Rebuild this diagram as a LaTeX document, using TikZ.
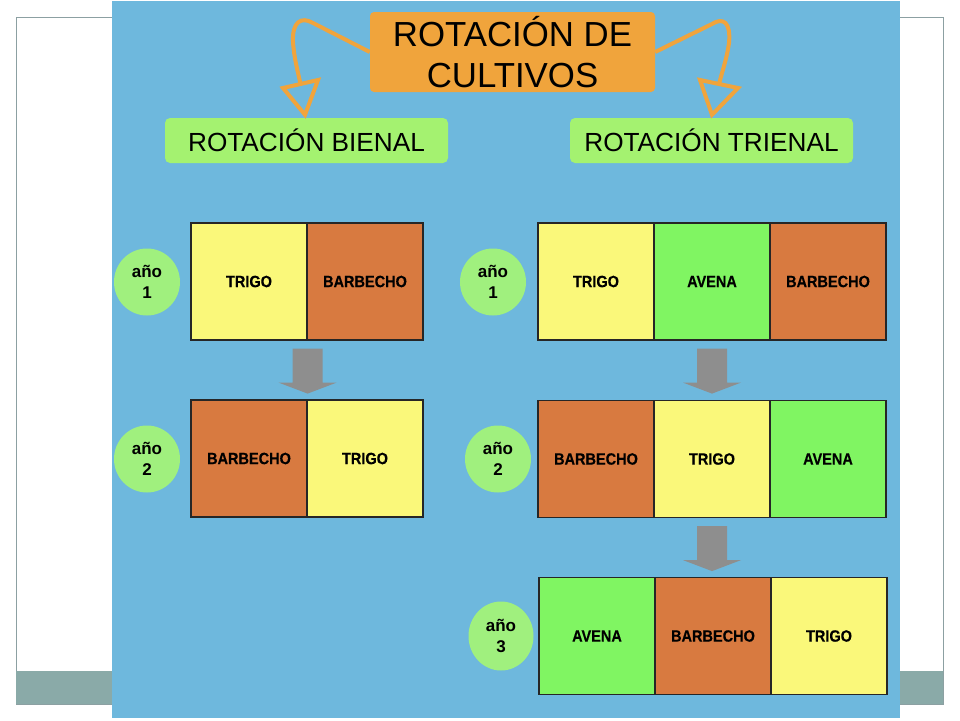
\documentclass[tikz,border=0pt]{standalone}
\usepackage{fontspec}
\setmainfont{Liberation Sans}
\newfontfamily\cellfont[FakeStretch=0.89,FakeBold=0.3]{Liberation Sans Bold}
\usetikzlibrary{arrows.meta,shapes.geometric,calc}
\definecolor{panelblue}{RGB}{110,184,221}
\definecolor{framegray}{RGB}{140,160,162}
\definecolor{bandgray}{RGB}{138,170,168}
\definecolor{titleorange}{RGB}{240,164,60}
\definecolor{labelgreen}{RGB}{164,242,112}
\definecolor{circgreen}{RGB}{160,240,126}
\definecolor{cyellow}{RGB}{250,248,122}
\definecolor{cbrown}{RGB}{216,122,64}
\definecolor{cgreen}{RGB}{128,245,98}
\definecolor{arrowgray}{RGB}{142,142,142}
\tikzset{
  titlebox/.style={fill=titleorange, rounded corners=4pt, minimum width=285pt, minimum height=80pt, inner sep=0pt, align=center, font=\fontsize{34.8}{41.5}\selectfont},
  labelbox/.style={fill=labelgreen, rounded corners=5pt, minimum width=283pt, minimum height=45pt, inner sep=0pt, font=\fontsize{26.2}{30}\selectfont},
  cell/.style={draw=black!85, line width=1.2pt, minimum width=116pt, minimum height=117pt, inner sep=0pt, font=\cellfont\fontsize{16.3}{19}\selectfont},
  yearc/.style={ellipse, fill=circgreen, minimum width=66pt, minimum height=67pt, inner sep=0pt, align=center, font=\bfseries\fontsize{17}{21.5}\selectfont},
  orangeline/.style={draw=titleorange, line width=4pt},
  orangehead/.style={draw=titleorange, line width=4pt, line join=miter},
  downarrow/.pic={\fill[arrowgray] (-15,8) -- (15,8) -- (15,42) -- (29,42) -- (0,53) -- (-29,42) -- (-15,42) -- cycle;}
}
\begin{document}
\begin{tikzpicture}[x=1pt,y=-1pt]
\useasboundingbox (0,0) rectangle (960,720);
\fill[white] (0,0) rectangle (960,720);
% slide frame
\draw[framegray, line width=1pt] (16,17) rectangle (943,704);
\fill[bandgray] (16,671) rectangle (943,704);
% panel
\fill[panelblue] (112,1) rectangle (900,718);
% title and labels
\node[titlebox] (title) at (512.5,52) {ROTACIÓN DE\\CULTIVOS};
\node[labelbox] (bienal) at (306.5,140.5) {ROTACIÓN BIENAL};
\node[labelbox] (trienal) at (711.5,140.5) {ROTACIÓN TRIENAL};
% curved arrows with open triangular heads
\coordinate (lbase) at (300.5,84);
\coordinate (rbase) at (719,84);
\draw[orangeline] (title.west) -- (313,23) .. controls (301,16) and (292,22) .. (293,42) .. controls (294,58) and (298,72) .. (lbase);
\draw[orangehead] (283,88) -- (318,80) -- ($(bienal.north)+(-1.5,-3)$) -- cycle;
\draw[orangeline] (title.east) -- (712,24) .. controls (723,17) and (731,22) .. (729,43) .. controls (727,58) and (722,72) .. (rbase);
\draw[orangehead] (700,80) -- (738,88) -- ($(trienal.north)+(0.5,-3)$) -- cycle;
% bienal rows
\node[cell, fill=cyellow] (b1a) at (249,281.5) {TRIGO};
\node[cell, fill=cbrown] (b1b) at (365,281.5) {BARBECHO};
\node[cell, fill=cbrown] (b2a) at (249,458.5) {BARBECHO};
\node[cell, fill=cyellow] (b2b) at (365,458.5) {TRIGO};
\node[yearc] (by1) at (147,282) {año\\1};
\node[yearc] (by2) at (147,459) {año\\2};
\pic at (b1a.south east) {downarrow};
% trienal rows
\node[cell, fill=cyellow] (t1a) at (596,281.5) {TRIGO};
\node[cell, fill=cgreen] (t1b) at (712,281.5) {AVENA};
\node[cell, fill=cbrown] (t1c) at (828,281.5) {BARBECHO};
\node[cell, fill=cbrown] (t2a) at (596,459) {BARBECHO};
\node[cell, fill=cyellow] (t2b) at (712,459) {TRIGO};
\node[cell, fill=cgreen] (t2c) at (828,459) {AVENA};
\node[cell, fill=cgreen] (t3a) at (597,636) {AVENA};
\node[cell, fill=cbrown] (t3b) at (713,636) {BARBECHO};
\node[cell, fill=cyellow] (t3c) at (829,636) {TRIGO};
\node[yearc] (ty1) at (493,282) {año\\1};
\node[yearc] (ty2) at (498,459) {año\\2};
\node[yearc, minimum width=65pt, minimum height=69pt] (ty3) at (501,636) {año\\3};
\pic at (t1b.south) {downarrow};
\pic at (t2b.south) {downarrow};
\end{tikzpicture}
\end{document}
